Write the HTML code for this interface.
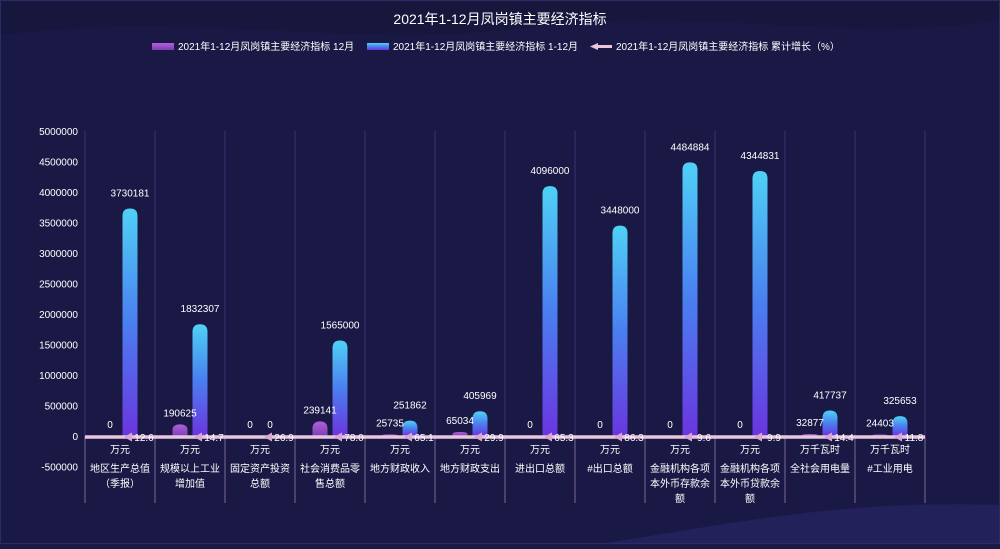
<!DOCTYPE html>
<html><head><meta charset="utf-8"><style>
body{margin:0;width:1000px;height:544px;overflow:hidden;background:#1a1945;font-family:"Liberation Sans","Noto Sans CJK SC",sans-serif}
svg text{font-family:"Liberation Sans","Noto Sans CJK SC",sans-serif}
</style></head><body>
<svg id="c" width="1000" height="544">
<defs>
<linearGradient id="gp" x1="0" y1="0" x2="0" y2="1"><stop offset="0" stop-color="#b45fd6"/><stop offset="1" stop-color="#7b3fb8"/></linearGradient>
<linearGradient id="gb" x1="0" y1="0" x2="0" y2="1"><stop offset="0" stop-color="#4fd1f5"/><stop offset="0.5" stop-color="#4a7ff0"/><stop offset="1" stop-color="#6a35e0"/></linearGradient>
</defs>
<rect width="1000" height="544" fill="#1a1945"/>
<path d="M0 0 H1000 V20 C850 45 700 5 520 28 C350 50 200 10 0 35 Z" fill="#17163d"/>
<path d="M600 544 C750 520 850 500 1000 505 V544 Z" fill="#22215a"/>
<rect x="0.5" y="0.5" width="999" height="543" fill="none" stroke="#2c2b66"/>
<text x="500" y="24" fill="#fff" font-size="14" text-anchor="middle">2021年1-12月凤岗镇主要经济指标</text>
<g>
<rect x="152" y="43" width="22" height="7" fill="url(#gp)"/>
<text x="178" y="50" fill="#fff" font-size="10">2021年1-12月凤岗镇主要经济指标 12月</text>
<rect x="367" y="43" width="22" height="7" fill="url(#gb)"/>
<text x="393" y="50" fill="#fff" font-size="10">2021年1-12月凤岗镇主要经济指标 1-12月</text>
<path d="M590 46.5 L598 43 L598 45 L612 45 L612 48 L598 48 L598 50 Z" fill="#e8c6dc"/>
<text x="616" y="50" fill="#fff" font-size="10">2021年1-12月凤岗镇主要经济指标 累计增长（%）</text>
</g>
<g id="plot"></g>
</svg>
<script>
const categories=["地区生产总值（季报）","规模以上工业增加值","固定资产投资总额","社会消费品零售总额","地方财政收入","地方财政支出","进出口总额","#出口总额","金融机构各项本外币存款余额","金融机构各项本外币贷款余额","全社会用电量","#工业用电"];
const units=["万元","万元","万元","万元","万元","万元","万元","万元","万元","万元","万千瓦时","万千瓦时"];
const monthVals=[0,190625,0,239141,25735,65034,0,0,0,0,32877,24403];
const ytdVals=[3730181,1832307,0,1565000,251862,405969,4096000,3448000,4484884,4344831,417737,325653];
const growthVals=[12.6,14.7,26.9,78.0,65.1,29.9,65.3,86.3,9.6,9.9,14.4,11.8];
const yTicks=[5000000,4500000,4000000,3500000,3000000,2500000,2000000,1500000,1000000,500000,0,-500000];
const NS="http://www.w3.org/2000/svg",g=document.getElementById('plot');
const x0=85,x1=925,bw=(x1-x0)/categories.length;
const y=v=>436-v*(305/5000000);
const y2=v=>437-v*0.0;
const cx=i=>x0+bw*i+bw/2;
function mk(t,a,p){const e=document.createElementNS(NS,t);for(const k in a)e.setAttribute(k,a[k]);(p||g).appendChild(e);return e;}
yTicks.forEach(t=>{
 const e=mk('text',{x:78,y:y(t)+4,fill:'#fff','font-size':10,'text-anchor':'end'});e.textContent=t;
 
 
});
for(let i=0;i<=categories.length;i++){
 const l=mk('line',{x1:x0+bw*i,x2:x0+bw*i,y1:131,y2:503,stroke:'#3d2f6e','stroke-width':1});
 
 
 const l2=mk('line',{x1:x0+bw*i,x2:x0+bw*i,y1:436,y2:503,stroke:'#7a6a90','stroke-width':1});
 
 
}
const ax=mk('line',{x1:x0,x2:x1,y1:436,y2:436,stroke:'#9a8fb0'});


function bar(xc,v,fill,name){
 const w=15,top=y(Math.max(v,0)),h=436-top;
 if(h<=0)return;
 const r=Math.min(7.5,h/2);
 const d=`M${xc-w/2} 436 L${xc-w/2} ${top+r} Q${xc-w/2} ${top} ${xc} ${top} Q${xc+w/2} ${top} ${xc+w/2} ${top+r} L${xc+w/2} 436 Z`;
 const p=mk('path',{d,fill});
 
 
}
categories.forEach((c,i)=>{
 const m=cx(i)-10,b=cx(i)+10;
 bar(m,monthVals[i],'url(#gp)','bar-month');
 bar(b,ytdVals[i],'url(#gb)','bar-ytd');
 const t1=mk('text',{x:m,y:y(monthVals[i])-8,fill:'#fff','font-size':10,'text-anchor':'middle'});t1.textContent=monthVals[i];
 
 
 const t2=mk('text',{x:b,y:y(ytdVals[i])-(ytdVals[i]>0?12:8),fill:'#fff','font-size':10,'text-anchor':'middle'});t2.textContent=ytdVals[i];
 
 
 const u=mk('text',{x:cx(i),y:453,fill:'#fff','font-size':10,'text-anchor':'middle'});u.textContent=units[i];
 
 
 const chars=[...c];
 for(let k=0;k*6<chars.length;k++){
  const n=mk('text',{x:cx(i),y:472+k*15,fill:'#fff','font-size':10,'text-anchor':'middle'});n.textContent=chars.slice(k*6,k*6+6).join('');
  
  
 }
});
const pts=growthVals.map((v,i)=>[cx(i)+10,y2(v)]);
const ln=mk('polyline',{points:[[x0,y2(growthVals[0])],...pts,[x1,y2(growthVals[11])]].map(p=>p.join(',')).join(' '),fill:'none',stroke:'#e8c6dc','stroke-width':3.5});


growthVals.forEach((v,i)=>{
 const [px,py]=pts[i];
 const a=mk('path',{d:`M${px-6} ${py} L${px+2} ${py-4.5} L${px+2} ${py+4.5} Z`,fill:'#d9a8d0'});
 
 
 const t=mk('text',{x:px+14,y:py+4,fill:'#fff','font-size':10,'text-anchor':'middle'});t.textContent=v.toFixed(1);
 
 
});
</script>
</body></html>
